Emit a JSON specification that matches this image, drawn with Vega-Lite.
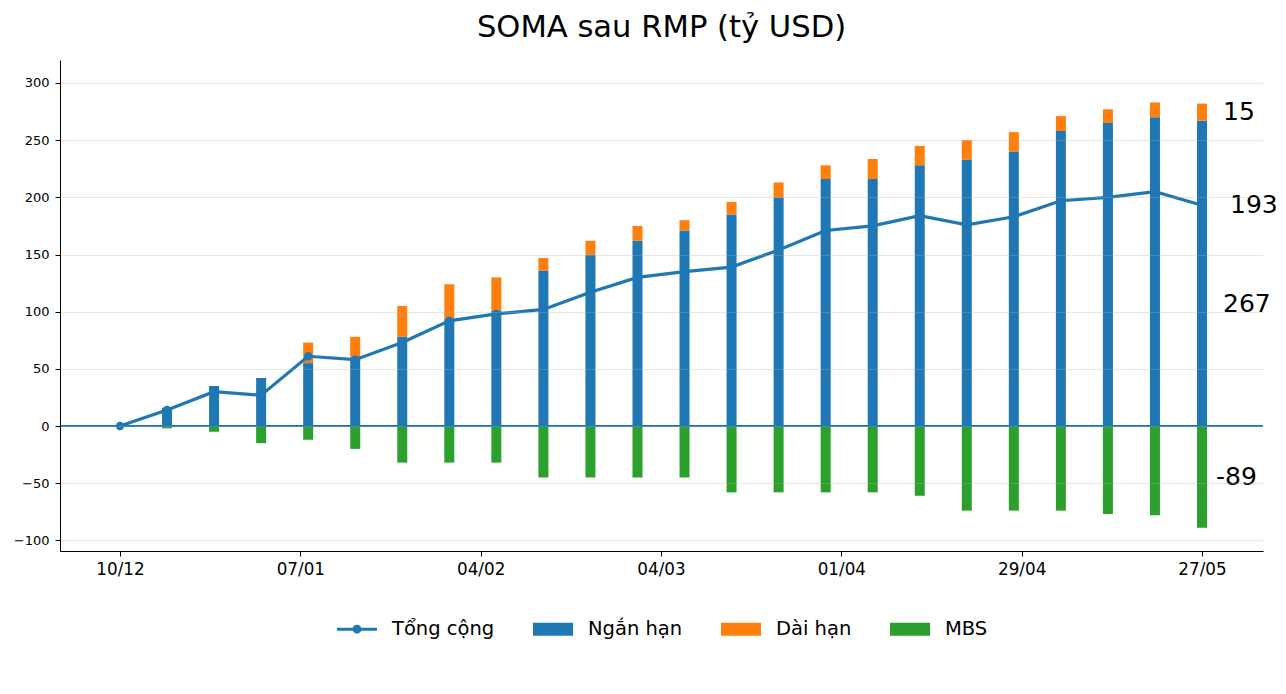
{
  "$schema": "https://vega.github.io/schema/vega-lite/v6.json",
  "description": "SOMA sau RMP: trái phiếu ngắn hạn, dài hạn, MBS và tổng cộng (tỷ USD)",
  "width": 1203,
  "height": 491,
  "autosize": {"type": "none"},
  "padding": {"left": 60, "top": 60, "right": 23, "bottom": 143},
  "title": {
    "text": "SOMA sau RMP (tỷ USD)",
    "fontSize": 30.6,
    "fontWeight": "normal",
    "color": "#000000",
    "offset": 16
  },
  "datasets": {
    "soma": [
      {"ngay": "2025-12-10T00:00", "ngan": 0, "dai": 0, "mbs": 0, "tong": 0},
      {"ngay": "2025-12-17T07:18", "ngan": 16, "dai": 0, "mbs": -2, "tong": 14},
      {"ngay": "2025-12-24T14:37", "ngan": 35, "dai": 0, "mbs": -5, "tong": 30},
      {"ngay": "2025-12-31T21:55", "ngan": 42, "dai": 0, "mbs": -15, "tong": 27},
      {"ngay": "2026-01-08T05:13", "ngan": 55, "dai": 18, "mbs": -12, "tong": 61},
      {"ngay": "2026-01-15T12:31", "ngan": 60, "dai": 18, "mbs": -20, "tong": 58},
      {"ngay": "2026-01-22T19:49", "ngan": 78, "dai": 27, "mbs": -32, "tong": 73},
      {"ngay": "2026-01-30T03:08", "ngan": 94, "dai": 30, "mbs": -32, "tong": 92},
      {"ngay": "2026-02-06T10:26", "ngan": 101, "dai": 29, "mbs": -32, "tong": 98},
      {"ngay": "2026-02-13T17:44", "ngan": 136, "dai": 11, "mbs": -45, "tong": 102},
      {"ngay": "2026-02-21T01:02", "ngan": 150, "dai": 12, "mbs": -45, "tong": 117},
      {"ngay": "2026-02-28T08:21", "ngan": 162, "dai": 13, "mbs": -45, "tong": 130},
      {"ngay": "2026-03-07T15:39", "ngan": 171, "dai": 9, "mbs": -45, "tong": 135},
      {"ngay": "2026-03-14T22:57", "ngan": 185, "dai": 11, "mbs": -58, "tong": 139},
      {"ngay": "2026-03-22T06:16", "ngan": 200, "dai": 13, "mbs": -58, "tong": 154},
      {"ngay": "2026-03-29T13:34", "ngan": 216, "dai": 12, "mbs": -58, "tong": 171},
      {"ngay": "2026-04-05T20:52", "ngan": 216, "dai": 17.5, "mbs": -58, "tong": 175},
      {"ngay": "2026-04-13T04:10", "ngan": 228, "dai": 17, "mbs": -61, "tong": 184},
      {"ngay": "2026-04-20T11:29", "ngan": 233, "dai": 17, "mbs": -74, "tong": 176},
      {"ngay": "2026-04-27T18:47", "ngan": 240, "dai": 17, "mbs": -74, "tong": 183},
      {"ngay": "2026-05-05T02:05", "ngan": 258, "dai": 13, "mbs": -74, "tong": 197},
      {"ngay": "2026-05-12T09:23", "ngan": 265, "dai": 12, "mbs": -77, "tong": 200},
      {"ngay": "2026-05-19T16:42", "ngan": 270, "dai": 13, "mbs": -78, "tong": 205},
      {"ngay": "2026-05-27T00:00", "ngan": 267, "dai": 15, "mbs": -89, "tong": 193}
    ],
    "nhan": [
      {"ngay": "2026-05-27T00:00", "vi_tri": 274.5, "nhan": "15"},
      {"ngay": "2026-05-27T00:00", "vi_tri": 193, "nhan": "193"},
      {"ngay": "2026-05-27T00:00", "vi_tri": 106.8, "nhan": "267"},
      {"ngay": "2026-05-27T00:00", "vi_tri": -44.5, "nhan": "-89"}
    ]
  },
  "data": {"name": "soma"},
  "encoding": {
    "x": {
      "field": "ngay",
      "type": "temporal",
      "title": null,
      "scale": {
        "nice": false,
        "padding": 0,
        "domain": [
          {"year": 2025, "month": 11, "date": 30, "hours": 16, "minutes": 25},
          {"year": 2026, "month": 6, "date": 5, "hours": 11, "minutes": 17}
        ]
      },
      "axis": {
        "format": "%d/%m",
        "values": [
          {"year": 2025, "month": 12, "date": 10},
          {"year": 2026, "month": 1, "date": 7},
          {"year": 2026, "month": 2, "date": 4},
          {"year": 2026, "month": 3, "date": 4},
          {"year": 2026, "month": 4, "date": 1},
          {"year": 2026, "month": 4, "date": 29},
          {"year": 2026, "month": 5, "date": 27}
        ],
        "grid": false,
        "labelFontSize": 16.8,
        "labelPadding": 5,
        "labelFlush": false,
        "labelOverlap": false
      }
    }
  },
  "layer": [
    {
      "transform": [{"fold": ["ngan", "dai", "mbs"], "as": ["loai", "gia_tri"]}],
      "mark": {"type": "bar", "size": 10},
      "encoding": {
        "y": {
          "field": "gia_tri",
          "type": "quantitative",
          "stack": "zero",
          "title": null,
          "scale": {"domain": [-109.3, 320.1], "nice": false, "zero": false, "padding": 0},
          "axis": {
            "values": [-100, -50, 0, 50, 100, 150, 200, 250, 300],
            "labelFontSize": 13,
            "labelPadding": 6,
            "gridColor": "#b0b0b0",
            "gridOpacity": 0.3,
            "zindex": 1
          }
        },
        "color": {"field": "loai", "type": "nominal"},
        "order": {"field": "loai", "sort": "descending"}
      }
    },
    {
      "mark": {"type": "rule", "color": "#1f77b4", "opacity": 0.85, "strokeWidth": 2},
      "encoding": {"y": {"datum": 0, "type": "quantitative"}, "x": null}
    },
    {
      "transform": [{"fold": ["tong"], "as": ["loai", "gia_tri"]}],
      "mark": {
        "type": "line",
        "strokeWidth": 3.2,
        "point": {"filled": true, "size": 70}
      },
      "encoding": {
        "y": {"field": "gia_tri", "type": "quantitative"},
        "color": {"field": "loai", "type": "nominal"}
      }
    },
    {
      "transform": [{"fold": ["tong"], "as": ["loai", "gia_tri"]}, {"filter": "false"}],
      "mark": {"type": "point", "filled": true},
      "encoding": {
        "y": {"field": "gia_tri", "type": "quantitative"},
        "color": {
          "field": "loai",
          "type": "nominal",
          "scale": {
            "domain": ["tong", "ngan", "dai", "mbs"],
            "range": ["#1f77b4", "#1f77b4", "#ff7f0e", "#2ca02c"]
          },
          "legend": {
            "title": null,
            "orient": "none",
            "legendX": 277,
            "legendY": 549,
            "direction": "horizontal",
            "columns": 4,
            "labelExpr": "datum.label == 'tong' ? 'Tổng cộng' : datum.label == 'ngan' ? 'Ngắn hạn' : datum.label == 'dai' ? 'Dài hạn' : 'MBS'"
          }
        },
        "shape": {
          "field": "loai",
          "type": "nominal",
          "scale": {
            "domain": ["tong", "ngan", "dai", "mbs"],
            "range": [
              "M-1,-0.075H1V0.075H-1Z M0.22,0A0.22,0.22 0 1,1 -0.22,0A0.22,0.22 0 1,1 0.22,0Z",
              "M-1,-0.32H1V0.32H-1Z",
              "M-1,-0.32H1V0.32H-1Z",
              "M-1,-0.32H1V0.32H-1Z"
            ]
          },
          "legend": {
            "title": null,
            "orient": "none",
            "legendX": 277,
            "legendY": 549,
            "direction": "horizontal",
            "columns": 4,
            "labelExpr": "datum.label == 'tong' ? 'Tổng cộng' : datum.label == 'ngan' ? 'Ngắn hạn' : datum.label == 'dai' ? 'Dài hạn' : 'MBS'"
          }
        }
      }
    },
    {
      "data": {"name": "nhan"},
      "mark": {
        "type": "text",
        "align": "left",
        "baseline": "middle",
        "fontSize": 25,
        "color": "#000000",
        "dx": {"expr": "datum.nhan === '193' ? 28 : datum.nhan === '-89' ? 14 : 21"}
      },
      "encoding": {
        "y": {"field": "vi_tri", "type": "quantitative"},
        "text": {"field": "nhan", "type": "nominal"}
      }
    }
  ],
  "config": {
    "font": "DejaVu Sans",
    "view": {"stroke": null},
    "axis": {
      "domainColor": "#000000",
      "domainWidth": 1,
      "tickColor": "#000000",
      "tickSize": 5,
      "labelColor": "#000000"
    },
    "legend": {
      "labelFontSize": 19.5,
      "labelColor": "#000000",
      "symbolSize": 1600,
      "symbolStrokeWidth": 0,
      "symbolOpacity": 1,
      "labelOffset": 15,
      "columnPadding": 38,
      "padding": 0
    }
  }
}
